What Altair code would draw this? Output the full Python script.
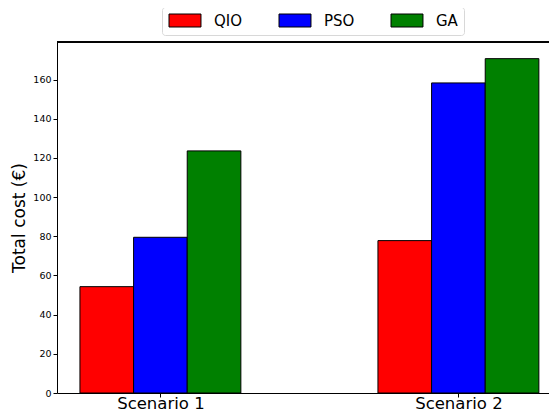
import altair as alt
import pandas as pd

scenarios = ["Scenario 1", "Scenario 2"]
algorithms = ["QIO", "PSO", "GA"]
qio = [54.3, 77.8]
pso = [79.5, 158.3]
ga = [123.6, 170.7]
colors = ["#ff0000", "#0000ff", "#008000"]

bar_w = 0.18
rows = []
for si, sc in enumerate(scenarios):
    for ai, (alg, vals) in enumerate(zip(algorithms, [qio, pso, ga])):
        c = si + (ai - 1) * bar_w
        rows.append({"scenario": sc, "algorithm": alg, "value": vals[si],
                     "x0": c - bar_w / 2, "x1": c + bar_w / 2})
df = pd.DataFrame(rows)

W, H = 492, 351
xdom = [-0.347, -0.347 + W / 298.0]
FONT = "DejaVu Sans"

bars = alt.Chart(df).mark_bar(stroke="black", strokeWidth=1).encode(
    x=alt.X("x0:Q", scale=alt.Scale(domain=xdom, nice=False, zero=False, padding=0),
            axis=alt.Axis(values=[0, 1], grid=False, title=None,
                          labelExpr="datum.value == 0 ? 'Scenario 1' : 'Scenario 2'",
                          labelFontSize=16.5, labelFont=FONT, labelColor="black",
                          labelBaseline="alphabetic",
                          tickSize=4, tickColor="black", domainColor="black",
                          labelPadding=11, labelFlush=False)),
    x2="x1:Q",
    y=alt.Y("value:Q", scale=alt.Scale(domain=[0, 179.2], nice=False, padding=0),
            axis=alt.Axis(values=list(range(0, 161, 20)), grid=False,
                          title="Total cost (€)", titleFontSize=17, titleFont=FONT,
                          titleFontWeight="normal", titleColor="black", titlePadding=4,
                          labelFontSize=9.5, labelFont=FONT, labelColor="black",
                          tickSize=4, tickColor="black", domainColor="black",
                          labelPadding=2)),
    y2=alt.datum(0),
    color=alt.Color("algorithm:N", sort=algorithms,
                    scale=alt.Scale(domain=algorithms, range=colors),
                    legend=alt.Legend(
                        title=None, orient="none", direction="horizontal",
                        legendX=105, legendY=-35, columns=3,
                        symbolType="M-1,-1H3.92V1H-1Z", symbolSize=169,
                        symbolStrokeColor="black", symbolStrokeWidth=1,
                        symbolOpacity=1,
                        labelFontSize=15, labelFont=FONT, labelColor="black",
                        labelOffset=31, columnPadding=34, padding=6,
                        strokeColor="#d8d8d8", fillColor="white",
                        cornerRadius=3)),
)

top = alt.Chart(df).mark_rule(color="black", strokeWidth=1).encode(
    x=alt.value(0), x2=alt.value(W), y=alt.value(0))

chart = alt.layer(bars, top).properties(
    width=W, height=H,
    autosize=alt.AutoSizeParams(type="none"),
    padding={"left": 49, "top": 34, "right": 0, "bottom": 19},
).configure_view(stroke=None)

chart.save("out.html", embed_options={"renderer": "svg", "actions": False})
